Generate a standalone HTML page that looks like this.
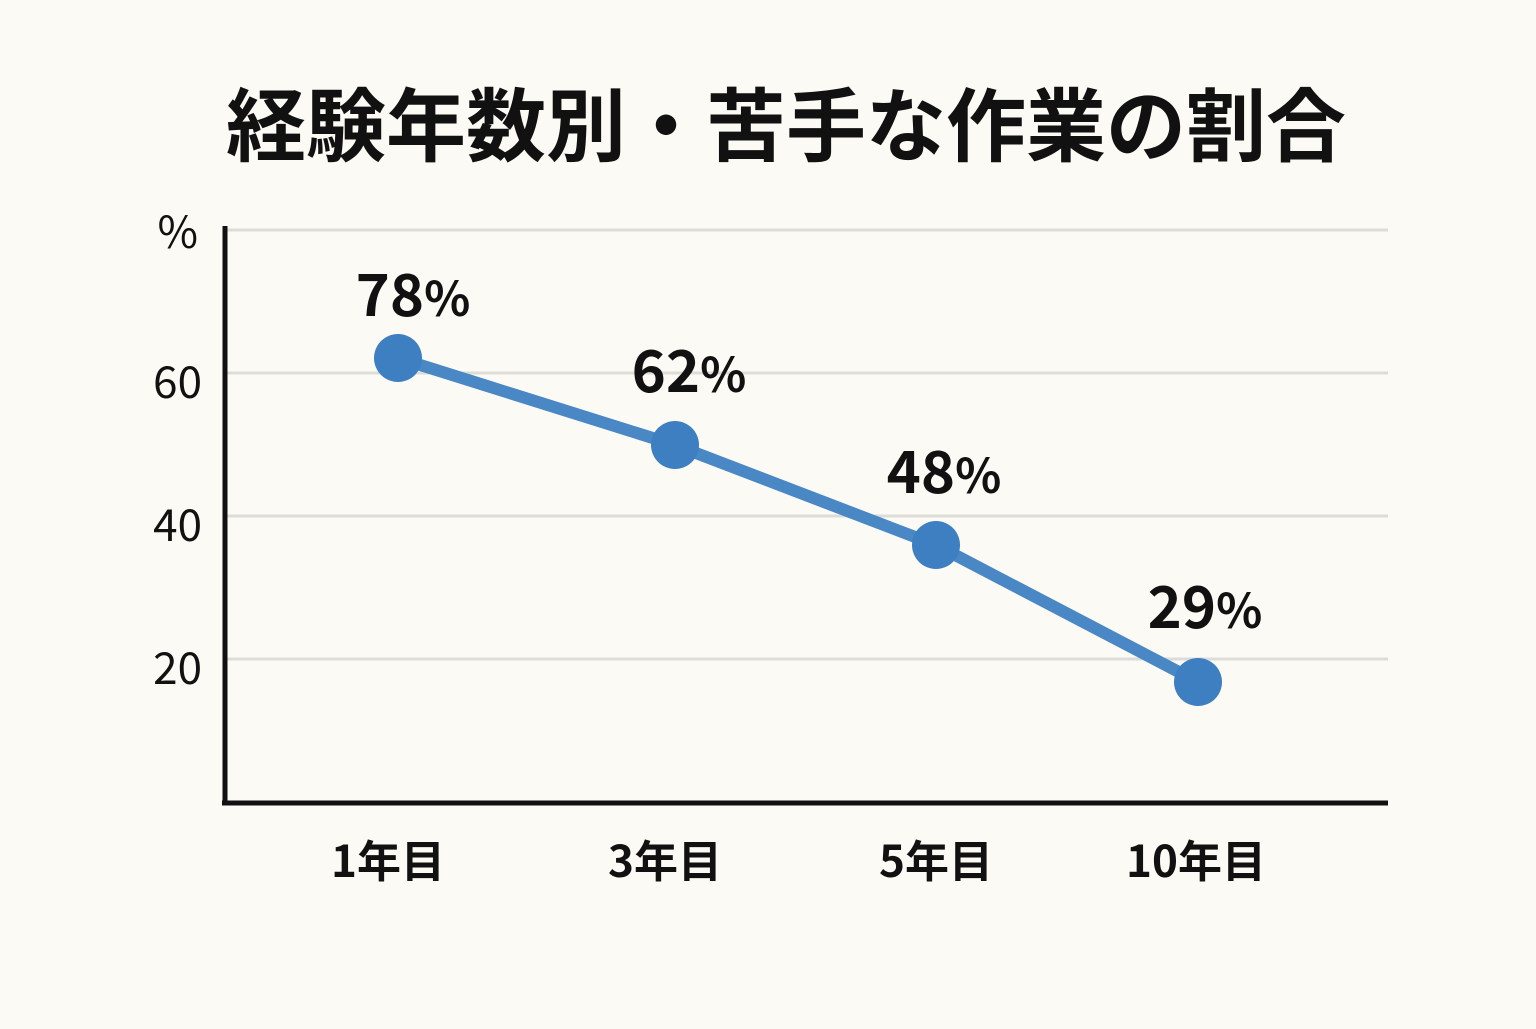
<!DOCTYPE html>
<html><head><meta charset="utf-8"><style>
html,body{margin:0;padding:0;background:#fcfaf4;}
body{width:1536px;height:1024px;overflow:hidden;}
svg text{font-family:"Noto Sans CJK JP",sans-serif;}
</style></head><body>
<svg width="1536" height="1024" xmlns="http://www.w3.org/2000/svg">
<rect width="1536" height="1024" fill="#fcfaf4"/>
<text x="786" y="155" text-anchor="middle" font-size="80" font-weight="bold" fill="#111">経験年数別・苦手な作業の割合</text>
<g stroke="#dcdcd8" stroke-width="3">
<line x1="225" y1="230" x2="1388" y2="230"/>
<line x1="225" y1="373" x2="1388" y2="373"/>
<line x1="225" y1="516" x2="1388" y2="516"/>
<line x1="225" y1="659" x2="1388" y2="659"/>
</g>
<line x1="225" y1="226" x2="225" y2="805" stroke="#111" stroke-width="5"/>
<line x1="222" y1="803" x2="1388" y2="803" stroke="#111" stroke-width="5"/>
<g font-size="44" fill="#111" text-anchor="end">
<text x="198" y="248">%</text>
<text x="202" y="398">60</text>
<text x="202" y="541">40</text>
<text x="202" y="684">20</text>
</g>
<polyline points="398,358 675,445 936,545 1198,682" fill="none" stroke="#4a87c5" stroke-width="12" stroke-linejoin="round"/>
<g fill="#3d7fc0">
<circle cx="398" cy="358" r="24"/>
<circle cx="675" cy="445" r="24"/>
<circle cx="936" cy="545" r="24"/>
<circle cx="1198" cy="682" r="24"/>
</g>
<g font-size="58" font-weight="bold" fill="#111" text-anchor="middle">
<text x="413" y="316">78<tspan font-size="48">%</tspan></text>
<text x="689" y="392">62<tspan font-size="48">%</tspan></text>
<text x="944" y="493">48<tspan font-size="48">%</tspan></text>
<text x="1205" y="628">29<tspan font-size="48">%</tspan></text>
</g>
<g font-size="44" font-weight="bold" fill="#111" text-anchor="middle">
<text x="388" y="877">1年目</text>
<text x="665" y="877">3年目</text>
<text x="936" y="877">5年目</text>
<text x="1196" y="877">10年目</text>
</g>
</svg>
</body></html>
